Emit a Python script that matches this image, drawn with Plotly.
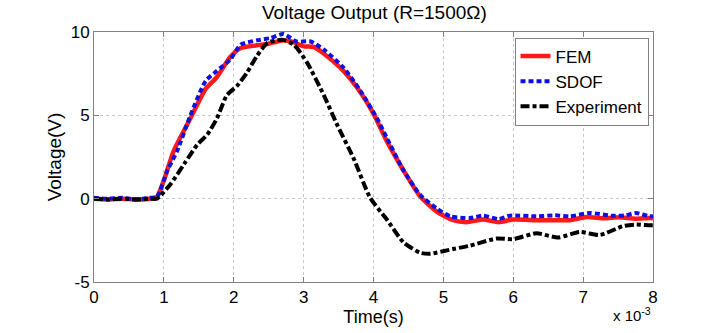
import plotly.graph_objects as go

# Time in units of 1e-3 s
fem_t = [0, 0.2, 0.4, 0.6, 0.8, 0.9, 1.0, 1.14, 1.38, 1.6, 1.76, 1.95, 2.1, 2.33, 2.5, 2.71, 2.85, 3.0, 3.15, 3.29, 3.57, 3.81, 4.0, 4.19, 4.43, 4.67, 4.9, 5.14, 5.33, 5.57, 5.79, 6.0, 6.33, 6.6, 6.81, 7.05, 7.3, 7.52, 7.75, 7.95, 8.0]
fem_v = [0, -0.05, 0.0, -0.05, 0.0, 0.1, 1.1, 2.86, 4.82, 6.6, 7.3, 8.5, 9.04, 9.2, 9.3, 9.5, 9.4, 9.14, 9.1, 8.7, 7.67, 6.4, 5.1, 3.45, 1.69, 0.12, -0.76, -1.29, -1.41, -1.25, -1.41, -1.25, -1.29, -1.3, -1.29, -1.1, -1.18, -1.12, -1.2, -1.16, -1.18]

sdof_t = [0, 0.2, 0.4, 0.6, 0.8, 0.9, 1.05, 1.19, 1.38, 1.6, 1.76, 1.95, 2.1, 2.33, 2.52, 2.71, 2.9, 3.1, 3.29, 3.57, 3.81, 4.05, 4.19, 4.43, 4.67, 4.9, 5.1, 5.38, 5.57, 5.79, 5.95, 6.33, 6.6, 6.81, 7.1, 7.4, 7.6, 7.76, 7.95, 8.0]
sdof_v = [0.05, 0.0, 0.05, -0.05, 0.05, 0.1, 1.69, 2.86, 5.0, 7.08, 7.67, 8.35, 9.24, 9.5, 9.63, 9.88, 9.43, 9.43, 8.94, 7.86, 6.49, 4.82, 3.65, 1.69, 0.22, -0.57, -1.06, -1.16, -1.02, -1.22, -1.02, -1.06, -1.0, -1.06, -0.86, -1.02, -1.0, -0.86, -1.06, -1.05]

exp_t = [0, 0.2, 0.4, 0.6, 0.8, 0.9, 1.1, 1.29, 1.48, 1.62, 1.76, 1.9, 2.05, 2.19, 2.33, 2.48, 2.69, 2.86, 3.05, 3.29, 3.48, 3.71, 3.95, 4.19, 4.43, 4.67, 4.81, 5.14, 5.38, 5.76, 6.0, 6.33, 6.64, 6.95, 7.24, 7.57, 7.76, 7.95, 8.0]
exp_v = [0, -0.05, 0.0, -0.05, 0.0, 0.0, 0.9, 2.08, 3.25, 3.84, 4.82, 6.2, 6.78, 7.57, 8.55, 9.34, 9.53, 9.24, 8.16, 6.2, 4.43, 2.47, 0.07, -1.25, -2.63, -3.25, -3.31, -3.02, -2.82, -2.39, -2.43, -2.08, -2.33, -2.0, -2.18, -1.65, -1.55, -1.6, -1.6]

x_ticks = [0, 1, 2, 3, 4, 5, 6, 7, 8]
y_ticks = [-5, 0, 5, 10]

FONT = "Liberation Sans, Arial, sans-serif"

fig = go.Figure()
fig.add_trace(go.Scatter(x=fem_t, y=fem_v, mode="lines", name="FEM",
                         line=dict(color="#ff1a1a", width=4.5, shape="spline", smoothing=0.6)))
fig.add_trace(go.Scatter(x=sdof_t, y=sdof_v, mode="lines", name="SDOF",
                         line=dict(color="#1010e0", width=4, dash="5px,3px", shape="spline", smoothing=0.6)))
fig.add_trace(go.Scatter(x=exp_t, y=exp_v, mode="lines", name="Experiment",
                         line=dict(color="#000000", width=4, dash="9px,3px,4px,3px", shape="spline", smoothing=0.6)))

axis_common = dict(showline=True, linecolor="#808080", linewidth=1, mirror="ticks",
                   ticks="inside", ticklen=5, tickcolor="#808080",
                   showgrid=True, gridcolor="#c8c8c8", griddash="dot", gridwidth=1,
                   zeroline=False, tickfont=dict(family=FONT, size=17, color="#000"))

fig.update_layout(
    width=720, height=333,
    margin=dict(l=94, r=67, t=32, b=46),
    paper_bgcolor="white", plot_bgcolor="white",
    title=dict(text="Voltage Output (R=1500\u03a9)", x=0.52, xanchor="center", y=0.962, yanchor="middle",
               font=dict(family=FONT, size=19, color="#000")),
    xaxis=dict(range=[0, 8], tickvals=x_ticks, ticktext=[str(v) for v in x_ticks],
               title=dict(text="Time(s)", font=dict(family=FONT, size=18, color="#000"), standoff=1),
               **axis_common),
    yaxis=dict(range=[-5, 10], tickvals=y_ticks, ticktext=[str(v) for v in y_ticks],
               title=dict(text="Voltage(V)", font=dict(family=FONT, size=19, color="#000"), standoff=4),
               **axis_common),
    legend=dict(x=0.992, xanchor="right", y=0.978, yanchor="top",
                bgcolor="white", bordercolor="#808080", borderwidth=1,
                font=dict(family=FONT, size=17, color="#000"),
                tracegroupgap=0, itemwidth=30),
    showlegend=True,
)

fig.add_annotation(text="x 10<sup>-3</sup>", xref="paper", yref="paper", x=1.0, y=-0.177,
                   xanchor="right", yanchor="bottom", showarrow=False,
                   font=dict(family=FONT, size=15, color="#000"))

fig.write_html("out.html")
